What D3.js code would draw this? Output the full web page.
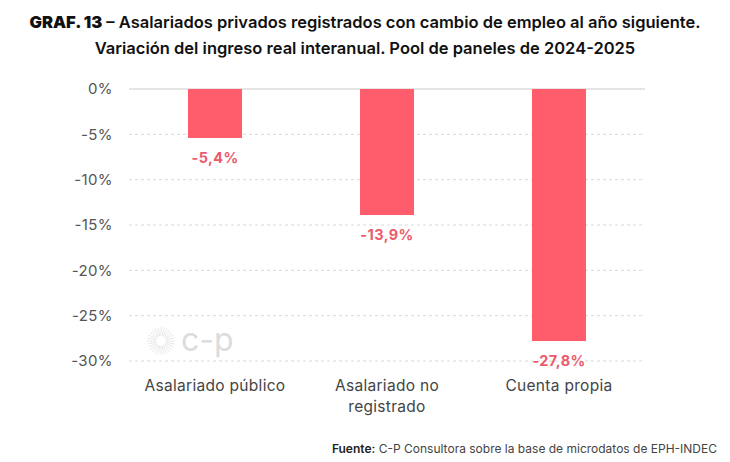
<!DOCTYPE html>
<html>
<head>
<meta charset="utf-8">
<script src="https://cdn.jsdelivr.net/npm/d3@7"></script>
<style>
  body { margin: 0; background: #fff; }
  svg { font-family: Inter, "Open Sans", sans-serif; }
</style>
</head>
<body>
<div id="chart"></div>
<script>
// data
var categories = ["Asalariado público", "Asalariado no registrado", "Cuenta propia"];
var categoryLines = [["Asalariado público"], ["Asalariado no", "registrado"], ["Cuenta propia"]];
var values = [-5.4, -13.9, -27.8];
var valueLabels = ["-5,4%", "-13,9%", "-27,8%"];
var yTicks = [0, -5, -10, -15, -20, -25, -30];

var svgWidth = 730;
var svgHeight = 462;

var margin = { top: 89, right: 85, bottom: 101, left: 129 };
var width = svgWidth - margin.left - margin.right;
var height = svgHeight - margin.top - margin.bottom;

var svg = d3.select("#chart")
    .append("svg")
    .attr("width", svgWidth)
    .attr("height", svgHeight);

// title
var title = svg.append("text")
    .attr("x", svgWidth / 2)
    .attr("y", 28)
    .attr("text-anchor", "middle")
    .attr("font-size", 16.5)
    .attr("font-weight", 600)
    .attr("fill", "#111");
title.append("tspan").attr("font-weight", 900).text("GRAF. 13");
title.append("tspan").text(" – Asalariados privados registrados con cambio de empleo al año siguiente.");

svg.append("text")
    .attr("x", svgWidth / 2)
    .attr("y", 54)
    .attr("text-anchor", "middle")
    .attr("font-size", 16.5)
    .attr("font-weight", 600)
    .attr("fill", "#111")
    .text("Variación del ingreso real interanual. Pool de paneles de 2024-2025");

var chartGroup = svg.append("g")
    .attr("transform", `translate(${margin.left}, ${margin.top})`);

var xScale = d3.scaleBand()
    .domain(categories)
    .range([0, width])
    .paddingInner(0.686)
    .paddingOuter(0.343);

var yScale = d3.scaleLinear()
    .domain([0, -30])
    .range([0, 272]);

// grid
chartGroup.selectAll(".grid")
    .data(yTicks)
    .enter()
    .append("line")
    .attr("x1", 0)
    .attr("x2", width)
    .attr("y1", d => yScale(d))
    .attr("y2", d => yScale(d))
    .attr("stroke", d => d === 0 ? "#dddddd" : "#d9d9d9")
    .attr("stroke-width", d => d === 0 ? 1.5 : 1)
    .attr("stroke-dasharray", d => d === 0 ? null : "3,3");

// y axis labels
var leftAxis = d3.axisLeft(yScale)
    .tickValues(yTicks)
    .tickSize(0)
    .tickPadding(16)
    .tickFormat(d => d + "%");

var yAxisG = chartGroup.append("g").call(leftAxis);
yAxisG.select(".domain").remove();
yAxisG.selectAll("text")
    .attr("font-family", "Inter, sans-serif")
    .attr("font-size", 15)
    .attr("letter-spacing", 0.4)
    .attr("fill", "#555");

// watermark
var wm = chartGroup.append("g")
    .attr("transform", "translate(32, 252)")
    .attr("opacity", 0.4);
d3.range(28).forEach(function(i) {
    var a = i / 28 * Math.PI * 2;
    wm.append("line")
        .attr("x1", Math.cos(a) * 5)
        .attr("y1", Math.sin(a) * 5)
        .attr("x2", Math.cos(a) * 14)
        .attr("y2", Math.sin(a) * 14)
        .attr("stroke", "#bbb")
        .attr("stroke-width", 0.8);
});
wm.append("text")
    .attr("x", 20)
    .attr("y", 10)
    .attr("font-size", 32)
    .attr("fill", "#aaa")
    .text("c-p");

// bars
chartGroup.selectAll(".bar")
    .data(values)
    .enter()
    .append("rect")
    .attr("x", (d, i) => xScale(categories[i]))
    .attr("y", yScale(0))
    .attr("width", xScale.bandwidth())
    .attr("height", d => yScale(d) - yScale(0))
    .attr("fill", "#ff5c6c");

// value labels
chartGroup.selectAll(".valueLabel")
    .data(values)
    .enter()
    .append("text")
    .attr("x", (d, i) => xScale(categories[i]) + xScale.bandwidth() / 2)
    .attr("y", d => yScale(d) + 25)
    .attr("text-anchor", "middle")
    .attr("font-size", 14.5)
    .attr("font-weight", 700)
    .attr("letter-spacing", 0.4)
    .attr("fill", "#ea5a6b")
    .text((d, i) => valueLabels[i]);

// category labels
categoryLines.forEach(function(lines, i) {
    var t = chartGroup.append("text")
        .attr("x", xScale(categories[i]) + xScale.bandwidth() / 2)
        .attr("y", 302)
        .attr("text-anchor", "middle")
        .attr("font-size", 15.5)
        .attr("letter-spacing", 0.3)
        .attr("fill", "#444");
    lines.forEach(function(line, j) {
        t.append("tspan")
            .attr("x", xScale(categories[i]) + xScale.bandwidth() / 2)
            .attr("dy", j === 0 ? 0 : 21)
            .text(line);
    });
});

// source
var src = svg.append("text")
    .attr("x", 717)
    .attr("y", 453)
    .attr("text-anchor", "end")
    .attr("font-size", 12)
    .attr("fill", "#222");
src.append("tspan").attr("font-weight", 600).text("Fuente:");
src.append("tspan").attr("fill", "#444").text(" C-P Consultora sobre la base de microdatos de EPH-INDEC");
</script>
</body>
</html>
